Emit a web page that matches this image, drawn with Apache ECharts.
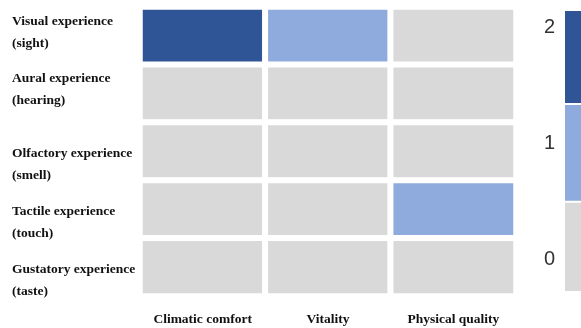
<!DOCTYPE html>
<html>
<head>
<meta charset="utf-8">
<script src="https://cdn.jsdelivr.net/npm/echarts@6/dist/echarts.min.js"></script>
<style>html,body{margin:0;padding:0;background:#fff;}#c{width:581px;height:328px;}</style>
</head>
<body>
<div id="c"></div>
<script>
const columns = ['Climatic comfort', 'Vitality', 'Physical quality'];
const rows = [
  'Visual experience\n(sight)',
  'Aural experience\n(hearing)',
  'Olfactory experience\n(smell)',
  'Tactile experience\n(touch)',
  'Gustatory experience\n(taste)'
];
// values per row, in column order
const visualVals    = [2, 1, 0];
const auralVals     = [0, 0, 0];
const olfactoryVals = [0, 0, 0];
const tactileVals   = [0, 0, 1];
const gustatoryVals = [0, 0, 0];
const rowValues = [visualVals, auralVals, olfactoryVals, tactileVals, gustatoryVals];
const levelValues = [0, 1, 2];
const levelColors = ['#D9D9D9', '#8FAADC', '#2F5597'];
// colour bar segments in colour-bar units [from, to]
const barSegments = [[-0.275, 0.5], [0.5, 1.34], [1.34, 2.146]];
const barTicks = [0, 1, 2];

const heatData = [];
rowValues.forEach((vals, r) => vals.forEach((v, c) => heatData.push([c, r, v])));

const labelFont = {fontFamily: 'Liberation Serif', fontWeight: 'bold', fontSize: 13.5, color: '#111', lineHeight: 22};
// vertical nudges of the row labels (px), as in the reference
const labelShift = [-3, -4, 13, 13, 13];
const rich = {t: Object.assign({}, labelFont)};
labelShift.forEach((d, i) => {
  rich['s' + i] = {fontSize: 1, lineHeight: Math.max(1, 2 * Math.abs(d))};
});

const chart = echarts.init(document.getElementById('c'), null, {renderer: 'canvas'});
chart.setOption({
  backgroundColor: '#fff',
  animation: false,
  grid: [
    {left: 140, top: 7, width: 376, height: 289, outerBoundsMode: 'none', containLabel: false},
    {left: 565, top: 10, width: 30, height: 282, outerBoundsMode: 'none', containLabel: false}
  ],
  xAxis: [
    {
      type: 'category', data: columns, gridIndex: 0,
      axisLine: {show: false}, axisTick: {show: false}, splitLine: {show: false},
      axisLabel: Object.assign({margin: 13, interval: 0, hideOverlap: false}, labelFont)
    },
    {type: 'value', gridIndex: 1, min: 0, max: 1, show: false}
  ],
  yAxis: [
    {
      type: 'category', data: rows, inverse: true, gridIndex: 0,
      axisLine: {show: false}, axisTick: {show: false}, splitLine: {show: false},
      axisLabel: Object.assign({
        align: 'left', margin: 128, rich: rich, interval: 0,
        formatter: function (value, index) {
          const parts = value.split('\n');
          const d = labelShift[index];
          const body = '{t|' + parts[0] + '}\n{t|' + parts[1] + '}';
          if (d > 0) return '{s' + index + '| }\n' + body;
          if (d < 0) return body + '\n{s' + index + '| }';
          return body;
        }
      }, labelFont)
    },
    {
      type: 'value', gridIndex: 1, min: barSegments[0][0], max: barSegments[barSegments.length - 1][1],
      axisLine: {show: false}, axisTick: {show: false}, splitLine: {show: false},
      axisLabel: {customValues: barTicks, margin: 10, fontFamily: 'Liberation Sans', fontSize: 20, color: '#333'}
    }
  ],
  visualMap: {
    type: 'piecewise', show: false, seriesIndex: 0, dimension: 2,
    pieces: levelValues.map((v, i) => ({value: v, color: levelColors[i]}))
  },
  series: [
    {
      type: 'heatmap', xAxisIndex: 0, yAxisIndex: 0, data: heatData,
      itemStyle: {borderColor: '#fff', borderWidth: 6},
      emphasis: {disabled: true}
    },
    {
      type: 'custom', xAxisIndex: 1, yAxisIndex: 1,
      data: barSegments.map((s, i) => [s[0], s[1], i]),
      renderItem: function (params, api) {
        const p0 = api.coord([0, api.value(1)]);
        const p1 = api.coord([1, api.value(0)]);
        const idx = api.value(2);
        return {
          type: 'rect',
          shape: {x: p0[0], y: p0[1] + 1, width: p1[0] - p0[0], height: p1[1] - p0[1] - 2},
          style: {fill: levelColors[idx]}
        };
      },
      clip: false
    }
  ]
});
</script>
</body>
</html>
